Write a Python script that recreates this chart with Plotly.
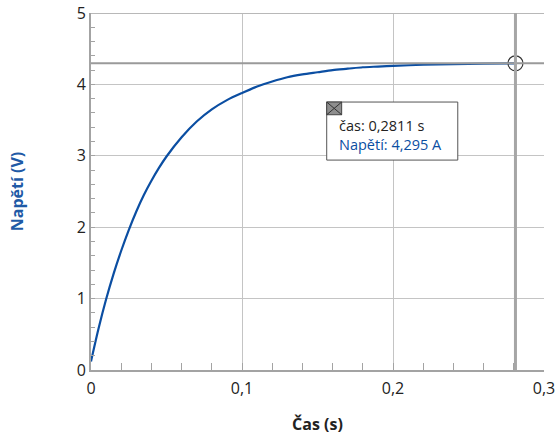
import plotly.graph_objects as go

# Data
time_s = [0.0, 0.005, 0.01, 0.015, 0.02, 0.025, 0.03, 0.035, 0.04, 0.045, 0.05,
          0.06, 0.07, 0.08, 0.09, 0.10, 0.11, 0.12, 0.13, 0.14, 0.15, 0.16,
          0.17, 0.18, 0.19, 0.20, 0.22, 0.24, 0.26, 0.2811]
voltage_v = [0.12, 0.58, 0.99, 1.35, 1.67, 1.96, 2.22, 2.45, 2.65, 2.83, 2.99,
             3.26, 3.48, 3.65, 3.78, 3.88, 3.97, 4.04, 4.10, 4.14, 4.17, 4.20,
             4.22, 4.24, 4.25, 4.26, 4.275, 4.284, 4.29, 4.295]
cursor_t = 0.2811
cursor_v = 4.295
x_ticks = [0, 0.1, 0.2, 0.3]
x_tick_labels = ["0", "0,1", "0,2", "0,3"]
y_ticks = [0, 1, 2, 3, 4, 5]
x_range = [0, 0.3]
y_range = [0, 5]

BLUE = "#0b4ea2"
TITLE_BLUE = "#1f5aa6"
GRID = "#c4c4c4"
AXIS = "#a3a3a3"
FONT = "Open Sans"

fig = go.Figure()

fig.add_trace(go.Scatter(x=time_s, y=voltage_v, mode="lines",
                         line=dict(color=BLUE, width=2.2, shape="spline", smoothing=0.8),
                         hoverinfo="skip", showlegend=False))

# top grid line at the range edge
fig.add_shape(type="line", xref="x", yref="y", x0=x_range[0], x1=x_range[1],
              y0=y_range[1], y1=y_range[1], line=dict(color="#b8b8b8", width=2), layer="above")

# crosshair
fig.add_shape(type="line", xref="x", yref="y", x0=x_range[0], x1=x_range[1],
              y0=cursor_v, y1=cursor_v, line=dict(color="#9a9a9a", width=2), layer="above")
fig.add_shape(type="line", xref="x", yref="y", x0=cursor_t, x1=cursor_t,
              y0=y_range[0], y1=y_range[1], line=dict(color="#a6a6a6", width=3), layer="above")
fig.add_trace(go.Scatter(x=[cursor_t], y=[cursor_v], mode="markers",
                         marker=dict(symbol="circle-open", size=15, color="#333333",
                                     line=dict(color="#333333", width=1.2)),
                         hoverinfo="skip", showlegend=False))

# tooltip box (data coordinates)
bx0, bx1, by0, by1 = 0.1561, 0.2429, 2.94, 3.753
fig.add_shape(type="rect", xref="x", yref="y", x0=bx0, x1=bx1, y0=by0, y1=by1,
              fillcolor="white", line=dict(color="#555555", width=1), layer="above")
ix1, iy0 = 0.1660, 3.575
fig.add_shape(type="rect", xref="x", yref="y", x0=bx0, x1=ix1, y0=iy0, y1=by1,
              fillcolor="#8e8e8e", line=dict(color="#444444", width=1), layer="above")
fig.add_shape(type="line", xref="x", yref="y", x0=bx0, x1=ix1, y0=iy0, y1=by1,
              line=dict(color="#333333", width=1), layer="above")
fig.add_shape(type="line", xref="x", yref="y", x0=bx0, x1=ix1, y0=by1, y1=iy0,
              line=dict(color="#333333", width=1), layer="above")

t_txt = f"{cursor_t:.4f}".replace(".", ",")
v_txt = f"{cursor_v:.3f}".replace(".", ",")
fig.add_annotation(x=0.1627, y=3.29, xref="x", yref="y",
                   text=f"čas: {t_txt} s<br><span style='color:{BLUE}'>Napětí: {v_txt} A</span>",
                   showarrow=False, xanchor="left", yanchor="middle", align="left",
                   font=dict(family=FONT, size=14.5, color="#222222"))

fig.update_layout(
    width=557, height=435,
    margin=dict(l=91, r=13, t=13, b=65),
    paper_bgcolor="white", plot_bgcolor="white",
    separators=", ",
    font=dict(family=FONT, size=16, color="#222222"),
    showlegend=False,
    xaxis=dict(range=x_range, tickvals=x_ticks, ticktext=x_tick_labels,
               showgrid=True, gridcolor=GRID, gridwidth=1,
               showline=True, linecolor=AXIS, linewidth=2,
               ticks="inside", ticklen=7, tickcolor=AXIS, tickwidth=1,
               minor=dict(dtick=0.02, ticks="inside", ticklen=7, tickcolor=AXIS,
                          showgrid=False),
               zeroline=False, fixedrange=True, automargin=False,
               ticklabeloverflow="allow", ticklabelstandoff=3,
               title=dict(text="<b>Čas (s)</b>", standoff=26,
                          font=dict(family=FONT, size=16, color="#222222")),
               tickfont=dict(family=FONT, size=16, color="#222222")),
    yaxis=dict(range=y_range, tickvals=y_ticks,
               showgrid=True, gridcolor=GRID, gridwidth=1,
               showline=True, linecolor=AXIS, linewidth=2,
               ticks="inside", ticklen=4, tickcolor=AXIS, tickwidth=1,
               minor=dict(dtick=0.2, ticks="inside", ticklen=4, tickcolor=AXIS,
                          showgrid=False),
               zeroline=False, fixedrange=True, automargin=False,
               ticklabeloverflow="allow",
               title=dict(text="<b>Napětí (V)</b>", standoff=49,
                          font=dict(family=FONT, size=16, color=TITLE_BLUE)),
               tickfont=dict(family=FONT, size=16, color="#222222")),
)

fig.write_html("out.html", config={"displayModeBar": False},
               post_script="document.body.style.margin='0';document.body.style.overflow='hidden';")
